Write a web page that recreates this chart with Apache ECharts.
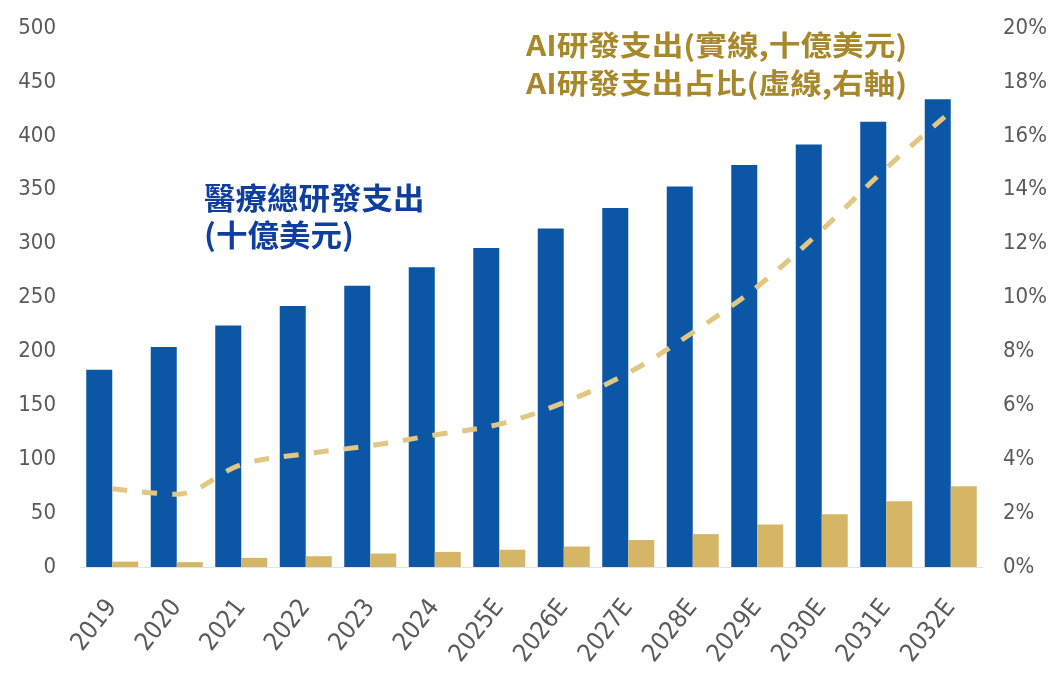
<!DOCTYPE html>
<html>
<head>
<meta charset="utf-8">
<script src="https://cdn.jsdelivr.net/npm/echarts@6/dist/echarts.min.js"></script>
<style>
  html, body { margin: 0; padding: 0; background: #fff; }
  #chart { width: 1056px; height: 679px; }
</style>
</head>
<body>
<div id="chart"></div>
<script>
// 年份
const years = ['2019', '2020', '2021', '2022', '2023', '2024', '2025E', '2026E', '2027E', '2028E', '2029E', '2030E', '2031E', '2032E'];
// 醫療總研發支出 (十億美元)
const totalRD = [183, 204, 224, 242, 261, 278, 296, 314, 333, 353, 373, 392, 413, 434];
// AI研發支出 (十億美元)
const aiRD = [5, 4.5, 8.5, 10, 12.5, 14, 16, 19, 25, 30.5, 39.5, 49, 61, 75];
// AI研發支出占比 (%)
const aiShare = [2.9, 2.7, 3.8, 4.2, 4.5, 4.9, 5.3, 6.1, 7.2, 8.7, 10.4, 12.5, 14.8, 16.9];

const axisFont = "'Liberation Sans Narrow', 'DejaVu Sans Condensed', sans-serif";
const cjkFont = "'Noto Sans CJK TC', sans-serif";

let myEchart = echarts.init(document.getElementById('chart'));

let opt = {
	backgroundColor: '#fff',
	animation: false,
	grid: { left: 80, right: 73, top: 28, bottom: 112 },
	graphic: [
		{
			type: 'text',
			x: 204,
			y: 179,
			scaleX: 1.05,
			style: {
				text: '醫療總研發支出\n(十億美元)',
				font: "bold 30px " + cjkFont,
				lineHeight: 37,
				fill: '#0f3f9e'
			}
		},
		{
			type: 'text',
			x: 526,
			y: 26,
			scaleX: 1.13,
			style: {
				text: 'AI研發支出(實線,十億美元)\nAI研發支出占比(虛線,右軸)',
				font: "bold 28px " + cjkFont,
				lineHeight: 38,
				fill: '#a8882c'
			}
		}
	],
	xAxis: {
		type: 'category',
		data: years,
		axisLine: { show: true, lineStyle: { color: '#e3e3e3', width: 1 } },
		axisTick: { show: false },
		axisLabel: {
			rotate: 52,
			color: '#5a5a5a',
			fontSize: 25,
			fontFamily: axisFont,
			margin: 36
		}
	},
	yAxis: [
		{
			type: 'value',
			min: 0,
			max: 500,
			interval: 50,
			splitLine: { show: false },
			axisLine: { show: false },
			axisTick: { show: false },
			axisLabel: { color: '#5a5a5a', fontSize: 22, fontFamily: axisFont, margin: 24 }
		},
		{
			type: 'value',
			min: 0,
			max: 20,
			interval: 2,
			splitLine: { show: false },
			axisLine: { show: false },
			axisTick: { show: false },
			axisLabel: { color: '#5a5a5a', fontSize: 22, fontFamily: axisFont, margin: 20, formatter: '{value}%' }
		}
	],
	series: [
		{
			name: '醫療總研發支出',
			type: 'bar',
			data: totalRD,
			barWidth: 26,
			barGap: '0%',
			itemStyle: { color: '#0b57a6' }
		},
		{
			name: 'AI研發支出',
			type: 'bar',
			data: aiRD,
			barWidth: 26,
			barGap: '0%',
			itemStyle: { color: '#d5b666' }
		},
		{
			name: 'AI研發支出占比',
			type: 'line',
			yAxisIndex: 1,
			data: aiShare,
			smooth: 0.35,
			symbol: 'none',
			lineStyle: { color: '#e2c784', width: 5, type: [15, 15] },
			z: 5
		}
	]
};
myEchart.setOption(opt);
</script>
</body>
</html>
